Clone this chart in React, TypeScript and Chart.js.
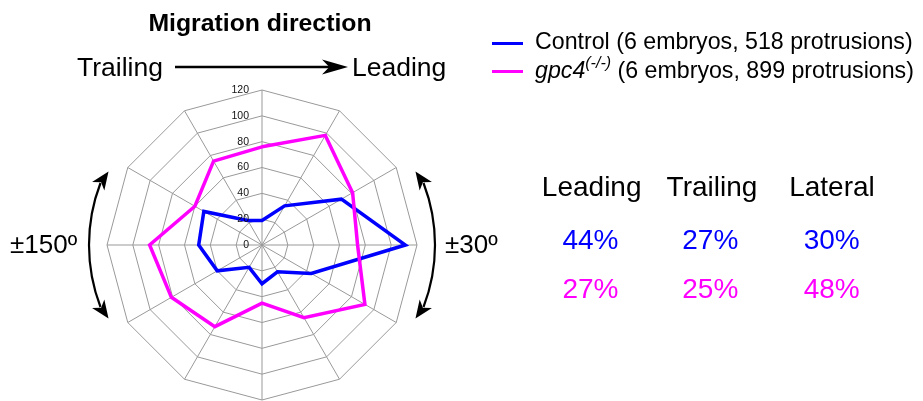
import React, { useEffect, useRef } from "react";
import { Chart, registerables } from "chart.js";

Chart.register(...registerables);

const directions = ["90°", "60°", "30°", "0°", "-30°", "-60°", "-90°", "-120°", "-150°", "180°", "150°", "120°"];
const controlValues = [19, 35, 71, 111, 44, 24, 30, 20, 40, 49, 52, 22];
const gpc4Values = [76, 98, 81, 74, 92, 65, 45, 73, 81, 87, 60, 75];
const radialTicks = [0, 20, 40, 60, 80, 100, 120];
const tableHeaders = ["Leading", "Trailing", "Lateral"];
const controlPercents = ["44%", "27%", "30%"];
const gpc4Percents = ["27%", "25%", "48%"];

const BLUE = "#0000ff";
const MAGENTA = "#ff00ff";
const FONT = "'Liberation Sans', Arial, Helvetica, sans-serif";

function drawHead(ctx: CanvasRenderingContext2D, px: number, py: number, dx: number, dy: number, L: number, W: number) {
  const nx = -dy, ny = dx;
  ctx.beginPath();
  ctx.moveTo(px + dx * L, py + dy * L);
  ctx.lineTo(px + nx * W / 2, py + ny * W / 2);
  ctx.lineTo(px + dx * L * 0.28, py + dy * L * 0.28);
  ctx.lineTo(px - nx * W / 2, py - ny * W / 2);
  ctx.closePath();
  ctx.fill();
}

function curvedArrow(ctx: CanvasRenderingContext2D, cx: number, cy: number, R: number, mid: number, half: number) {
  ctx.beginPath();
  ctx.arc(cx, cy, R, mid - half, mid + half);
  ctx.stroke();
  for (const s of [-1, 1]) {
    const a = mid + s * half;
    const px = cx + R * Math.cos(a);
    const py = cy + R * Math.sin(a);
    let tx = -Math.sin(a) * s;
    let ty = Math.cos(a) * s;
    const inx = -Math.cos(a), iny = -Math.sin(a);
    tx += inx * 0.25; ty += iny * 0.25;
    const n = Math.hypot(tx, ty);
    tx /= n; ty /= n;
    drawHead(ctx, px - tx * 4, py - ty * 4, tx, ty, 18, 15);
  }
}

const extrasPlugin = {
  id: "extras",
  afterDraw(chart: any) {
    const ctx: CanvasRenderingContext2D = chart.ctx;
    const scale = chart.scales.r;
    const cx = scale.xCenter, cy = scale.yCenter;
    ctx.save();
    ctx.fillStyle = "#111";
    ctx.font = `10.5px ${FONT}`;
    ctx.textAlign = "right";
    ctx.textBaseline = "middle";
    radialTicks.forEach((v) => {
      const d = scale.getDistanceFromCenterForValue(v);
      ctx.fillText(String(v), cx - 13, cy - d);
    });
    ctx.strokeStyle = "#000";
    ctx.fillStyle = "#000";
    ctx.lineWidth = 2.2;
    const R = scale.drawingArea + 18;
    curvedArrow(ctx, cx, cy, R, 0, (21 * Math.PI) / 180);
    curvedArrow(ctx, cx, cy, R, Math.PI, (21 * Math.PI) / 180);
    ctx.lineWidth = 2.5;
    ctx.beginPath();
    ctx.moveTo(175, 67);
    ctx.lineTo(330, 67);
    ctx.stroke();
    drawHead(ctx, 322, 67, 1, 0, 26, 15);
    ctx.restore();
  },
};

export default function App() {
  const ref = useRef<HTMLCanvasElement>(null);
  useEffect(() => {
    if (!ref.current) return;
    const chart = new Chart(ref.current, {
      type: "radar",
      data: {
        labels: directions,
        datasets: [
          {
            label: "gpc4(-/-) (6 embryos, 899 protrusions)",
            data: gpc4Values,
            borderColor: MAGENTA,
            backgroundColor: "transparent",
            borderWidth: 3.5,
            pointRadius: 0,
            fill: false,
          },
          {
            label: "Control (6 embryos, 518 protrusions)",
            data: controlValues,
            borderColor: BLUE,
            backgroundColor: "transparent",
            borderWidth: 3.5,
            pointRadius: 0,
            fill: false,
          },
        ],
      },
      options: {
        responsive: false,
        animation: false,
        devicePixelRatio: 1,
        layout: { padding: { left: 107, right: 506, top: 90, bottom: 1 } },
        plugins: { legend: { display: false }, tooltip: { enabled: false } },
        scales: {
          r: {
            min: 0,
            max: 120,
            ticks: { stepSize: 20, display: false },
            grid: { color: "#999", lineWidth: 1, circular: false },
            angleLines: { display: true, color: "#999", lineWidth: 1 },
            pointLabels: { display: false },
          },
        },
      },
      plugins: [extrasPlugin],
    });
    return () => chart.destroy();
  }, []);

  const base: React.CSSProperties = {
    position: "absolute",
    fontFamily: FONT,
    lineHeight: 1,
    whiteSpace: "nowrap",
    color: "#000",
    margin: 0,
  };
  const centered = (cx: number, top: number, size: number, color = "#000", extra: React.CSSProperties = {}): React.CSSProperties => ({
    ...base,
    left: cx,
    top,
    fontSize: size,
    color,
    transform: "translateX(-50%)",
    ...extra,
  });
  const headerX = [591.7, 712, 832];
  const pctX = [590.5, 710.3, 831.7];

  return (
    <div style={{ position: "fixed", left: 0, top: 0, width: 923, height: 401, background: "#fff", overflow: "hidden" }}>
      <canvas ref={ref} width={923} height={401} style={{ position: "absolute", left: 0, top: 0, width: 923, height: 401 }} />
      <div style={centered(260, 10.5, 24.8, "#000", { fontWeight: "bold" })}>Migration direction</div>
      <div style={{ ...base, left: 77, top: 54, fontSize: 26.5 }}>Trailing</div>
      <div style={{ ...base, left: 352, top: 54, fontSize: 26.5 }}>Leading</div>

      <div style={{ position: "absolute", left: 492, top: 42, width: 31, height: 3, background: BLUE }} />
      <div style={{ ...base, left: 535, top: 30, fontSize: 23.2 }}>Control (6 embryos, 518 protrusions)</div>
      <div style={{ position: "absolute", left: 492, top: 70, width: 31, height: 3, background: MAGENTA }} />
      <div style={{ ...base, left: 535, top: 58.5, fontSize: 23.2 }}>
        <i>gpc4</i>
        <i style={{ fontSize: 16, position: "relative", top: -10 }}>(-/-)</i> (6 embryos, 899 protrusions)
      </div>

      {tableHeaders.map((h, i) => (
        <div key={h} style={centered(headerX[i], 173, 28)}>{h}</div>
      ))}
      {controlPercents.map((p, i) => (
        <div key={"c" + i} style={centered(pctX[i], 226.3, 28, BLUE)}>{p}</div>
      ))}
      {gpc4Percents.map((p, i) => (
        <div key={"g" + i} style={centered(pctX[i], 274.6, 28, MAGENTA)}>{p}</div>
      ))}

      <div style={{ ...base, left: 10, top: 231, fontSize: 26 }}>±150º</div>
      <div style={{ ...base, left: 445, top: 231, fontSize: 26 }}>±30º</div>
    </div>
  );
}
